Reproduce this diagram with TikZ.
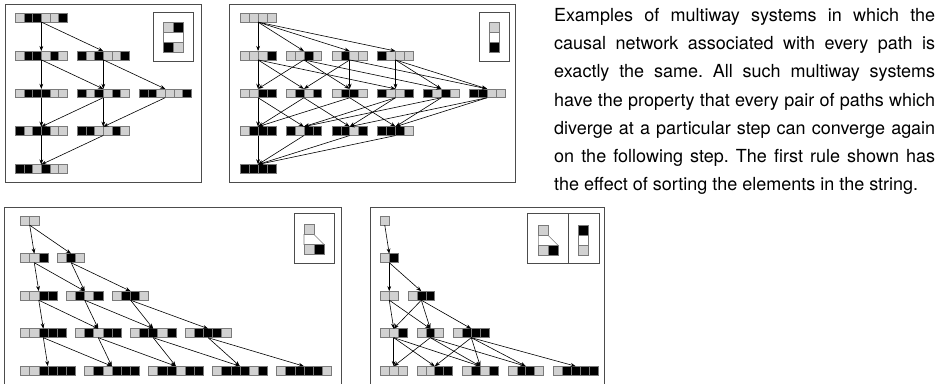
\documentclass[tikz,border=0pt]{standalone}
\usepackage{fontspec}
\setmainfont{TeX Gyre Heros}
\usetikzlibrary{arrows.meta}
\definecolor{cL}{gray}{0.82}
\definecolor{cB}{gray}{0}
\definecolor{cW}{gray}{1}
\definecolor{cellline}{gray}{0.48}
\definecolor{framec}{gray}{0.3}
\tikzset{
 cellbox/.style={draw=cellline, line width=0.6pt},
 arr/.style={-{Stealth[length=5.2pt,width=3.8pt]}, line width=0.6pt},
 panel/.style={draw=framec, line width=0.9pt},
 inset/.style={draw=framec, line width=0.9pt},
}
\newcommand\cellstr[6]{%
  \node[inner sep=0pt, outer sep=0pt, anchor=west, minimum width={#5*#4pt}, minimum height={#4pt}] (#1) at (#2,#3) {};
  \foreach \c [count=\i from 0] in {#6}{
    \draw[cellbox, fill=c\c] ({#2+\i*#4},{#3-#4/2}) rectangle ++(#4,#4);
  }}
\begin{document}
\begin{tikzpicture}[x=1pt,y=-1pt]
\useasboundingbox (0,0) rectangle (939,383);
\clip (0,0) rectangle (939,383);
% panel frames
\draw[panel] (5,4) rectangle (201.7,182.7);
\draw[panel] (229,4) rectangle (515.5,182.7);
\draw[panel] (4,207) rectangle (341.7,400);
\draw[panel] (370,207) rectangle (604,400);

% ---------- panel 1 ----------
\cellstr{a11}{15.3}{17.7}{8.67}{6}{L,B,B,L,L,B}
\cellstr{a21}{15.3}{55.5}{8.67}{6}{L,B,B,L,B,L}
\cellstr{a22}{77.3}{55.5}{8.67}{6}{B,L,B,L,L,B}
\cellstr{a31}{15.3}{93.3}{8.67}{6}{L,B,B,B,L,L}
\cellstr{a32}{77.3}{93.3}{8.67}{6}{B,L,B,L,B,L}
\cellstr{a33}{139.3}{93.3}{8.67}{6}{B,B,L,L,L,B}
\cellstr{a41}{15.3}{131.1}{8.67}{6}{B,L,B,B,L,L}
\cellstr{a42}{77.3}{131.1}{8.67}{6}{B,B,L,L,B,L}
\cellstr{a51}{15.3}{168.9}{8.67}{6}{B,B,L,B,L,L}
\foreach \s/\t in {a11/a21,a11/a22,a21/a31,a21/a32,a22/a32,a22/a33,a31/a41,a32/a41,a32/a42,a33/a42,a41/a51,a42/a51}
  \draw[arr] (\s.south) -- (\t.north);
\draw[inset] (153.5,12.3) rectangle (193.5,61.5);
\draw[cellbox, fill=cL] (163.3,22) rectangle ++(10,10);
\draw[cellbox, fill=cB] (173.3,22) rectangle ++(10,10);
\draw[cellbox, fill=cW] (163.3,32) rectangle ++(20,10);
\draw[cellbox, fill=cB] (163.3,42) rectangle ++(10,10);
\draw[cellbox, fill=cL] (173.3,42) rectangle ++(10,10);

% ---------- panel 2 ----------
\cellstr{b11}{240.3}{17.7}{8.9}{4}{L,L,L,L}
\cellstr{b21}{240.3}{55.5}{8.9}{4}{L,L,L,B}
\cellstr{b22}{286.1}{55.5}{8.9}{4}{L,L,B,L}
\cellstr{b23}{331.9}{55.5}{8.9}{4}{L,B,L,L}
\cellstr{b24}{377.7}{55.5}{8.9}{4}{B,L,L,L}
\cellstr{b31}{240.3}{93.3}{8.9}{4}{L,L,B,B}
\cellstr{b32}{286.1}{93.3}{8.9}{4}{L,B,L,B}
\cellstr{b33}{331.9}{93.3}{8.9}{4}{L,B,B,L}
\cellstr{b34}{377.7}{93.3}{8.9}{4}{B,L,L,B}
\cellstr{b35}{423.5}{93.3}{8.9}{4}{B,L,B,L}
\cellstr{b36}{469.3}{93.3}{8.9}{4}{B,B,L,L}
\cellstr{b41}{240.3}{131.1}{8.9}{4}{L,B,B,B}
\cellstr{b42}{286.1}{131.1}{8.9}{4}{B,L,B,B}
\cellstr{b43}{331.9}{131.1}{8.9}{4}{B,B,L,B}
\cellstr{b44}{377.7}{131.1}{8.9}{4}{B,B,B,L}
\cellstr{b51}{240.3}{168.9}{8.9}{4}{B,B,B,B}
\foreach \s/\t in {b11/b21,b11/b22,b11/b23,b11/b24,
  b21/b31,b21/b32,b21/b34,b22/b31,b22/b33,b22/b35,b23/b32,b23/b33,b23/b36,b24/b34,b24/b35,b24/b36,
  b31/b41,b31/b42,b32/b41,b32/b43,b33/b41,b33/b44,b34/b42,b34/b43,b35/b42,b35/b44,b36/b43,b36/b44,
  b41/b51,b42/b51,b43/b51,b44/b51}
  \draw[arr] (\s.south) -- (\t.north);
\draw[inset] (479.3,12.3) rectangle (509.3,61.5);
\draw[cellbox, fill=cL] (489.3,22) rectangle ++(10,10);
\draw[cellbox, fill=cW] (489.3,32) rectangle ++(10,10);
\draw[cellbox, fill=cB] (489.3,42) rectangle ++(10,10);

% ---------- panel 3 ----------
\cellstr{c11}{20.7}{220.7}{9.05}{2}{L,L}
\cellstr{c21}{20.7}{258.2}{9.05}{3}{L,L,B}
\cellstr{c22}{57.55}{258.2}{9.05}{3}{L,B,L}
\cellstr{c31}{20.7}{295.7}{9.05}{4}{L,L,B,B}
\cellstr{c32}{66.6}{295.7}{9.05}{4}{L,B,L,B}
\cellstr{c33}{112.5}{295.7}{9.05}{4}{L,B,B,L}
\cellstr{c41}{20.7}{333.2}{9.05}{5}{L,L,B,B,B}
\cellstr{c42}{75.65}{333.2}{9.05}{5}{L,B,L,B,B}
\cellstr{c43}{130.6}{333.2}{9.05}{5}{L,B,B,L,B}
\cellstr{c44}{185.55}{333.2}{9.05}{5}{L,B,B,B,L}
\cellstr{c51}{20.7}{370.7}{9.05}{6}{L,L,B,B,B,B}
\cellstr{c52}{84.7}{370.7}{9.05}{6}{L,B,L,B,B,B}
\cellstr{c53}{148.7}{370.7}{9.05}{6}{L,B,B,L,B,B}
\cellstr{c54}{212.7}{370.7}{9.05}{6}{L,B,B,B,L,B}
\cellstr{c55}{276.7}{370.7}{9.05}{6}{L,B,B,B,B,L}
\foreach \s/\t in {c11/c21,c11/c22,c21/c31,c21/c32,c22/c32,c22/c33,
  c31/c41,c31/c42,c32/c42,c32/c43,c33/c43,c33/c44,
  c41/c51,c41/c52,c42/c52,c42/c53,c43/c53,c43/c54,c44/c54,c44/c55}
  \draw[arr] (\s.south) -- (\t.north);
\draw[inset] (294,213) rectangle (334.5,263.5);
\draw[cellbox, fill=cL] (304,224.5) rectangle ++(10,10);
\draw[cellbox, fill=cW] (304,234.5) -- (314,234.5) -- (324,244.5) -- (304,244.5) -- cycle;
\draw[cellbox, fill=cL] (304,244.5) rectangle ++(10,10);
\draw[cellbox, fill=cB] (314,244.5) rectangle ++(10,10);

% ---------- panel 4 ----------
\cellstr{d11}{380.3}{220.7}{8.95}{1}{L}
\cellstr{d21}{380.3}{258.2}{8.95}{2}{L,B}
\cellstr{d31}{380.3}{295.7}{8.95}{2}{L,L}
\cellstr{d32}{407.9}{295.7}{8.95}{3}{L,B,B}
\cellstr{d41}{380.3}{333.2}{8.95}{3}{L,L,B}
\cellstr{d42}{416.85}{333.2}{8.95}{3}{L,B,L}
\cellstr{d43}{453.4}{333.2}{8.95}{4}{L,B,B,B}
\cellstr{d51}{380.3}{370.7}{8.95}{3}{L,L,L}
\cellstr{d52}{416.85}{370.7}{8.95}{4}{L,L,B,B}
\cellstr{d53}{462.35}{370.7}{8.95}{4}{L,B,L,B}
\cellstr{d54}{507.85}{370.7}{8.95}{4}{L,B,B,L}
\cellstr{d55}{553.35}{370.7}{8.95}{5}{L,B,B,B,B}
\foreach \s/\t in {d11/d21,d21/d31,d21/d32,d31/d41,d31/d42,d32/d41,d32/d42,d32/d43,
  d41/d51,d41/d52,d41/d53,d42/d51,d42/d53,d42/d54,d43/d52,d43/d53,d43/d54,d43/d55}
  \draw[arr] (\s.south) -- (\t.north);
\draw[inset] (527,213) rectangle (599,263.5);
\draw[inset] (568.3,213) -- (568.3,263.5);
\draw[cellbox, fill=cL] (538.3,225.5) rectangle ++(10,10);
\draw[cellbox, fill=cW] (538.3,235.5) -- (548.3,235.5) -- (558.3,245.5) -- (538.3,245.5) -- cycle;
\draw[cellbox, fill=cL] (538.3,245.5) rectangle ++(10,10);
\draw[cellbox, fill=cB] (548.3,245.5) rectangle ++(10,10);
\draw[cellbox, fill=cB] (578.3,225.5) rectangle ++(10,10);
\draw[cellbox, fill=cW] (578.3,235.5) rectangle ++(10,10);
\draw[cellbox, fill=cL] (578.3,245.5) rectangle ++(10,10);

% ---------- caption ----------
\node[anchor=base west, inner sep=0pt] (caption) at (554,21.5) {\parbox[t]{381pt}{\fontsize{18}{28.2}\selectfont\frenchspacing\tolerance=10000\noindent
Examples of multiway systems in which the\linebreak
causal network associated with every path is\linebreak
exactly the same. All such multiway systems\linebreak
have the property that every pair of paths which\linebreak
diverge at a particular step can converge again\linebreak
on the following step. The first rule shown has\linebreak
the effect of sorting the elements in the string.}};
\end{tikzpicture}
\end{document}
